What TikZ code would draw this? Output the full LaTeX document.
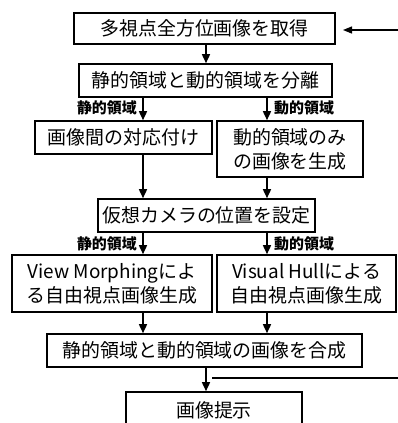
\documentclass[tikz,border=0pt]{standalone}
\usepackage{fontspec}
\setmainfont{Noto Sans CJK JP}
\usetikzlibrary{arrows.meta}
\begin{document}
\begin{tikzpicture}[x=1bp,y=-1bp,
  box/.style={draw,line width=1.6bp,inner sep=0pt,align=center,font=\fontsize{19}{24}\selectfont},
  lbl/.style={inner sep=0pt,font=\bfseries\fontsize{15}{18}\selectfont},
  arr/.style={line width=1.6bp,-{Triangle[length=9bp,width=8bp]}},
  ln/.style={line width=1.2bp}]
\useasboundingbox (0,0) rectangle (398,423);
\node[box,minimum width=261bp,minimum height=31bp] (b1) at (204.5,28.5) {多視点全方位画像を取得};
\node[box,minimum width=253bp,minimum height=33bp] (b2) at (205.5,80.5) {静的領域と動的領域を分離};
\node[box,minimum width=177bp,minimum height=33bp] (b3l) at (123.5,137.5) {画像間の対応付け};
\node[box,minimum width=146bp,minimum height=56bp] (b3r) at (290,149) {動的領域のみ\\の画像を生成};
\node[box,minimum width=217bp,minimum height=33bp] (b4) at (206.5,215.5) {仮想カメラの位置を設定};
\node[box,minimum width=200bp,minimum height=57bp] (b5l) at (112,283.5) {View Morphingによ\\る自由視点画像生成};
\node[box,minimum width=179bp,minimum height=57bp] (b5r) at (306.5,283.5) {Visual Hullによる\\自由視点画像生成};
\node[box,minimum width=315bp,minimum height=33bp] (b6) at (204.5,350.5) {静的領域と動的領域の画像を合成};
\node[box,minimum width=176bp,minimum height=36bp] (b7) at (214,410) {画像提示};
% labels
\node[lbl,anchor=east] (s1) at (137,108) {静的領域};
\node[lbl,anchor=west] (d1) at (274,108) {動的領域};
\node[lbl,anchor=east] (s2) at (137,244) {静的領域};
\node[lbl,anchor=west] (d2) at (274,244) {動的領域};
% arrows
\draw[arr] (b1.south -| 206,0) -- (b2.north -| 206,0);
\draw[arr] (b2.south -| 143,0) -- (b3l.north -| 143,0);
\draw[arr] (b2.south -| 267,0) -- (b3r.north -| 267,0);
\draw[arr] (b3l.south -| 143,0) -- (b4.north -| 143,0);
\draw[arr] (b3r.south -| 267,0) -- (b4.north -| 267,0);
\draw[arr] (b4.south -| 143,0) -- (b5l.north -| 143,0);
\draw[arr] (b4.south -| 267,0) -- (b5r.north -| 267,0);
\draw[arr] (b5l.south -| 143,0) -- (b6.north -| 143,0);
\draw[arr] (b5r.south -| 267,0) -- (b6.north -| 267,0);
\draw[arr] (b6.south -| 206,0) -- (b7.north -| 206,0);
% feedback
\coordinate (j) at (212,378);
\coordinate (fr) at (410,378);
\coordinate (ft) at (410,30);
\coordinate (fe) at (343,30);
\draw[ln] (j) -- (fr) -- (ft);
\draw[ln,-{Triangle[length=9bp,width=7bp]}] (ft) -- (fe);
\end{tikzpicture}
\end{document}
